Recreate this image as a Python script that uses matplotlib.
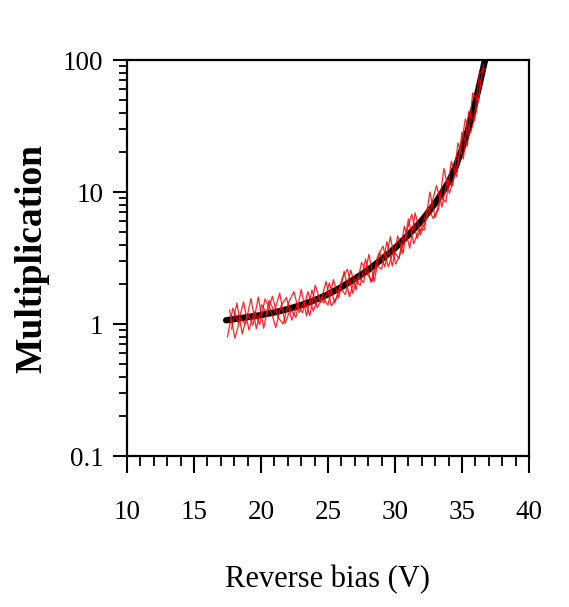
import numpy as np
import matplotlib
matplotlib.use("Agg")
import matplotlib.pyplot as plt
from matplotlib.ticker import MultipleLocator, LogLocator, FixedLocator, NullFormatter

plt.rcParams['font.family'] = ['Liberation Serif', 'DejaVu Serif']

# Fitted multiplication curve
bias_fit = [17.4, 18.0, 19.0, 20.0, 21.0, 22.0, 23.0, 24.0, 25.0, 26.0, 27.0, 28.0,
            29.0, 30.0, 31.0, 31.5, 32.0, 32.5, 33.0, 33.5, 34.0, 34.5, 35.0, 35.5,
            36.0, 36.3, 36.5, 36.72]
mult_fit = [1.067, 1.089, 1.127, 1.169, 1.225, 1.297, 1.390, 1.514, 1.679, 1.901, 2.198, 2.570,
            3.090, 3.758, 4.732, 5.35, 6.095, 7.05, 8.222, 9.84, 11.89, 15.31, 21.13, 30.90,
            48.19, 64.86, 79.80, 100.0]

# Measured multiplication, three sweeps
bias_a = [17.5, 17.9, 18.3, 18.7, 19.1, 19.5, 19.9, 20.3, 20.7, 21.1, 21.5, 21.9,
          22.3, 22.7, 23.1, 23.5, 23.9, 24.3, 24.7, 25.1, 25.5, 25.9, 26.3, 26.7,
          27.1, 27.5, 27.9, 28.3, 28.7, 29.1, 29.5, 29.9, 30.3, 30.7, 31.1, 31.5,
          31.9, 32.3, 32.7, 33.1, 33.5, 33.9, 34.3, 34.7, 35.1, 35.5, 35.9, 36.3, 36.7]
mult_a = [0.80, 1.32, 1.02, 1.47, 0.90, 1.24, 0.99, 1.55, 1.30, 0.94, 1.38, 1.59,
          1.07, 1.40, 1.22, 1.76, 1.25, 1.62, 1.44, 2.05, 1.44, 1.88, 1.67, 2.56,
          1.81, 2.93, 2.42, 2.10, 3.25, 3.89, 2.71, 3.60, 3.12, 5.51, 3.75, 6.96,
          4.75, 6.10, 7.90, 11.2, 7.68, 12.4, 11.1, 23.5, 17.8, 40.8, 34.4, 79.2, 86.0]

bias_b = [17.65, 18.05, 18.45, 18.85, 19.25, 19.65, 20.05, 20.45, 20.85, 21.25, 21.65, 22.05,
          22.45, 22.85, 23.25, 23.65, 24.05, 24.45, 24.85, 25.25, 25.65, 26.05, 26.45, 26.85,
          27.25, 27.65, 28.05, 28.45, 28.85, 29.25, 29.65, 30.05, 30.45, 30.85, 31.25, 31.65,
          32.05, 32.45, 32.85, 33.25, 33.65, 34.05, 34.45, 34.85, 35.25, 35.65, 36.05, 36.45]
mult_b = [1.28, 0.78, 1.10, 1.00, 1.56, 0.92, 1.40, 1.20, 1.62, 1.13, 1.00, 1.45,
          1.76, 1.22, 1.50, 1.16, 1.97, 1.45, 2.10, 1.37, 1.60, 2.20, 2.60, 1.71,
          2.30, 2.06, 3.37, 2.10, 3.50, 2.71, 4.59, 2.84, 3.50, 4.92, 6.79, 4.45,
          5.60, 7.73, 6.30, 7.38, 15.1, 9.76, 13.2, 19.7, 35.8, 28.2, 40.0, 72.0]

bias_c = [17.8, 18.2, 18.6, 19.0, 19.4, 19.8, 20.2, 20.6, 21.0, 21.4, 21.8, 22.2,
          22.6, 23.0, 23.4, 23.8, 24.2, 24.6, 25.0, 25.4, 25.8, 26.2, 26.6, 27.0,
          27.4, 27.8, 28.2, 28.6, 29.0, 29.4, 29.8, 30.2, 30.6, 31.0, 31.4, 31.8,
          32.2, 32.6, 33.0, 33.4, 33.8, 34.2, 34.6, 35.0, 35.4, 35.8, 36.2, 36.6]
mult_c = [0.92, 1.44, 0.84, 1.20, 0.98, 1.60, 0.93, 1.51, 1.25, 1.71, 1.01, 1.30,
          1.12, 1.83, 1.15, 1.81, 1.33, 1.60, 1.39, 2.17, 1.57, 2.51, 1.61, 2.20,
          1.96, 3.11, 2.07, 2.80, 2.60, 4.21, 2.74, 4.66, 3.42, 6.24, 4.06, 5.20,
          5.17, 10.0, 6.41, 9.20, 8.36, 17.1, 13.1, 28.5, 22.3, 56.4, 48.2, 92.8]

x_ticks = [10, 15, 20, 25, 30, 35, 40]
y_ticks = [0.1, 1, 10, 100]
y_tick_labels = ['0.1', '1', '10', '100']

W, H = 569, 607
fig = plt.figure(figsize=(W / 100, H / 100), dpi=100)
ax = fig.add_axes([127 / W, 1 - 456 / H, (529 - 127) / W, (456 - 60) / H])

ax.plot(bias_fit, mult_fit, color='black', lw=4.6, solid_capstyle='round', zorder=2)
for b, m in [(bias_a, mult_a), (bias_b, mult_b), (bias_c, mult_c)]:
    ax.plot(b, m, color='#ff0000', lw=0.9, alpha=0.85, zorder=3)

ax.set_yscale('log')
ax.set_xlim(10, 40)
ax.set_ylim(0.1, 100)

ax.xaxis.set_major_locator(FixedLocator(x_ticks))
ax.xaxis.set_minor_locator(MultipleLocator(1))
ax.set_yticks(y_ticks)
ax.set_yticklabels(y_tick_labels)
ax.yaxis.set_minor_locator(LogLocator(base=10, subs=np.arange(2, 10)))
ax.yaxis.set_minor_formatter(NullFormatter())

for s in ax.spines.values():
    s.set_linewidth(1.6)

ax.tick_params(axis='both', which='major', direction='out', width=1.5,
               labelsize=19.5, top=False, right=False)
ax.tick_params(axis='x', which='major', length=12, pad=20)
ax.tick_params(axis='y', which='major', length=10, pad=7)
ax.tick_params(axis='x', which='minor', direction='out', length=7, width=1.3, top=False)
ax.tick_params(axis='y', which='minor', direction='out', length=6, width=1.3, right=False)

fig.text(328 / W, 1 - 580 / H, 'Reverse bias (V)', ha='center', va='center', fontsize=22)
fig.text(32 / W, 1 - 258 / H, 'Multiplication', ha='center', va='center', fontsize=27,
         fontweight='bold', rotation=90)

fig.savefig('out.png', dpi=100)
